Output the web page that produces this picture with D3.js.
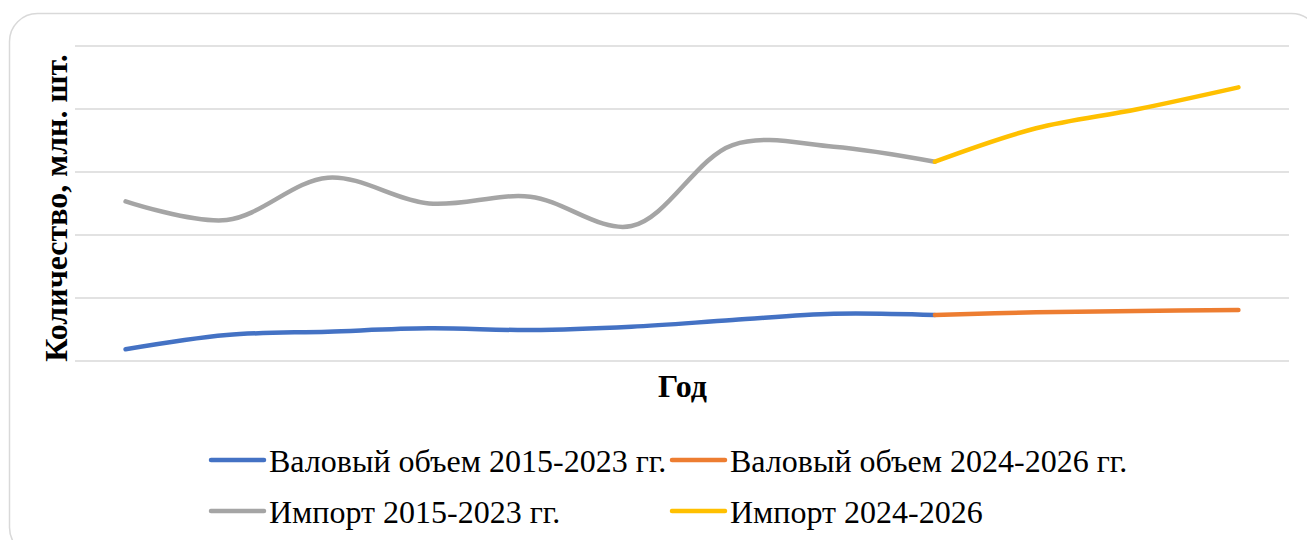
<!DOCTYPE html>
<html>
<head>
<meta charset="utf-8">
<script src="https://cdn.jsdelivr.net/npm/d3@7"></script>
<style>
    body { margin: 0; background: #fff; }
    svg { display: block; }
</style>
</head>
<body>
<svg id="chart" width="1307" height="540"></svg>
<script>
// data
let years = [2015, 2016, 2017, 2018, 2019, 2020, 2021, 2022, 2023, 2024, 2025, 2026];
let grossPast = [8.9, 20.2, 22.9, 25.5, 24.2, 26.8, 32.1, 37.1, 36.1];        // 2015-2023
let grossForecast = [36.1, 38.3, 39.3, 40.1];                                   // 2023-2026
let importPast = [126.3, 111.5, 145.1, 124.6, 130.0, 106.7, 171.0, 169.7, 157.8]; // 2015-2023
let importForecast = [157.8, 184.3, 199.4, 216.8];                              // 2023-2026
let yTicks = [0, 50, 100, 150, 200, 250];

let seriesList = [
    { name: "Валовый объем 2015-2023 гг.", color: "#4472C4", start: 0, values: grossPast },
    { name: "Валовый объем 2024-2026 гг.", color: "#ED7D31", start: 8, values: grossForecast },
    { name: "Импорт 2015-2023 гг.", color: "#A5A5A5", start: 0, values: importPast },
    { name: "Импорт 2024-2026", color: "#FFC000", start: 8, values: importForecast }
];

let svg = d3.select("#chart");

// chart frame
svg.append("rect")
    .attr("x", 9.5)
    .attr("y", 13.5)
    .attr("width", 1310)
    .attr("height", 542)
    .attr("rx", 28)
    .attr("fill", "#fff")
    .attr("stroke", "#d9d9d9")
    .attr("stroke-width", 1.5);

let plot = { left: 75, right: 1289, top: 45.5, bottom: 360.5 };

let x = d3.scalePoint()
    .domain(years)
    .range([plot.left, plot.right])
    .padding(0.5);

let y = d3.scaleLinear()
    .domain([0, 250])
    .range([plot.bottom, plot.top]);

// gridlines, no tick labels
svg.append("g")
    .attr("transform", "translate(" + plot.left + ",0)")
    .call(d3.axisLeft(y)
        .tickValues(yTicks)
        .tickSize(-(plot.right - plot.left))
        .tickFormat(""))
    .call(function(g) { g.select(".domain").remove(); })
    .selectAll("line")
    .attr("stroke", "#d9d9d9")
    .attr("stroke-width", 1.3);

let line = d3.line()
    .x(function(d) { return x(d.year); })
    .y(function(d) { return y(d.value); })
    .curve(d3.curveCatmullRom.alpha(0.5));

// draw the import lines first, then the gross volume lines
let drawOrder = [2, 3, 0, 1];
drawOrder.forEach(function(i) {
    let s = seriesList[i];
    let points = s.values.map(function(v, j) {
        return { year: years[s.start + j], value: v };
    });
    svg.append("path")
        .datum(points)
        .attr("fill", "none")
        .attr("stroke", s.color)
        .attr("stroke-width", 4.5)
        .attr("stroke-linecap", "round")
        .attr("stroke-linejoin", "round")
        .attr("d", line);
});

// axis titles
svg.append("text")
    .attr("transform", "translate(67,208) rotate(-90)")
    .attr("text-anchor", "middle")
    .attr("font-family", "'Liberation Serif', 'Times New Roman', serif")
    .attr("font-weight", "bold")
    .attr("font-size", "32px")
    .attr("fill", "#000")
    .text("Количество, млн. шт.");

svg.append("text")
    .attr("x", 682.5)
    .attr("y", 397)
    .attr("text-anchor", "middle")
    .attr("font-family", "'Liberation Serif', 'Times New Roman', serif")
    .attr("font-weight", "bold")
    .attr("font-size", "32px")
    .attr("fill", "#000")
    .text("Год");

// legend, two columns by two rows
let legendCols = [210, 671];
let legendRows = [460, 511];
seriesList.forEach(function(s, i) {
    let lx = legendCols[i % 2];
    let ly = legendRows[Math.floor(i / 2)];
    let item = svg.append("g");
    item.append("line")
        .attr("x1", lx + 1)
        .attr("x2", lx + 54)
        .attr("y1", ly)
        .attr("y2", ly)
        .attr("stroke", s.color)
        .attr("stroke-width", 4.5)
        .attr("stroke-linecap", "round");
    item.append("text")
        .attr("x", lx + 59)
        .attr("y", ly + 12)
        .attr("font-family", "'Liberation Serif', 'Times New Roman', serif")
        .attr("font-size", "32px")
        .attr("fill", "#000")
        .text(s.name);
});
</script>
</body>
</html>
